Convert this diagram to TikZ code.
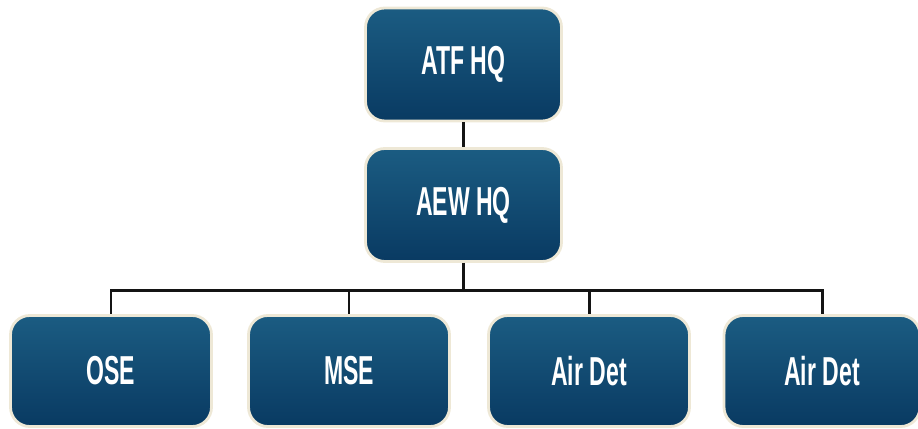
\documentclass[tikz,border=0pt]{standalone}
\usepackage{fontspec}
\usepackage{tikz}
\usetikzlibrary{calc}
\newfontfamily\boxfont[FakeStretch=0.57]{Liberation Sans}
\definecolor{unittop}{RGB}{27,92,130}
\definecolor{unitbot}{RGB}{9,58,98}
\definecolor{unitrim}{RGB}{238,232,214}
\definecolor{linkc}{RGB}{20,20,20}

\begin{document}
\begin{tikzpicture}[
  unit/.style={rounded corners=11pt, top color=unittop, bottom color=unitbot,
    draw=unitrim, line width=1.6pt, text=white,
    font=\boxfont\bfseries\fontsize{23}{26}\selectfont,
    minimum width=3.92cm, minimum height=2.26cm, inner sep=0pt},
  leaf/.style={unit, minimum width=4.02cm, minimum height=2.22cm},
  link/.style={draw=linkc, line width=1.7pt}
]
\useasboundingbox (0,0) rectangle (18.36,-8.58);

%% ── headquarters column ──────────────────────────────────────────
\node[unit] (atf) at (9.27,-1.29) {ATF HQ};
\node[unit] (aew) at (9.27,-4.10) {AEW HQ};

%% ── subordinate elements (pixel centres / 50) ────────────────────
\node[leaf] (ose)     at (2.22,-7.42)  {OSE};
\node[leaf] (mse)     at (6.98,-7.42)  {MSE};
\node[leaf] (airdetA) at (11.78,-7.42) {Air Det};
\node[leaf, minimum width=3.92cm] (airdetB) at (16.44,-7.42) {Air Det};

%% ── connectors ───────────────────────────────────────────────────
\draw[link] (atf.south) -- (aew.north);
\draw[link] (aew.south) -- ++(0,-0.56) coordinate (bus);
\foreach \n in {ose,mse,airdetA,airdetB}{
  \draw[link] (bus) -| (\n.north);
}

\end{tikzpicture}
\end{document}
